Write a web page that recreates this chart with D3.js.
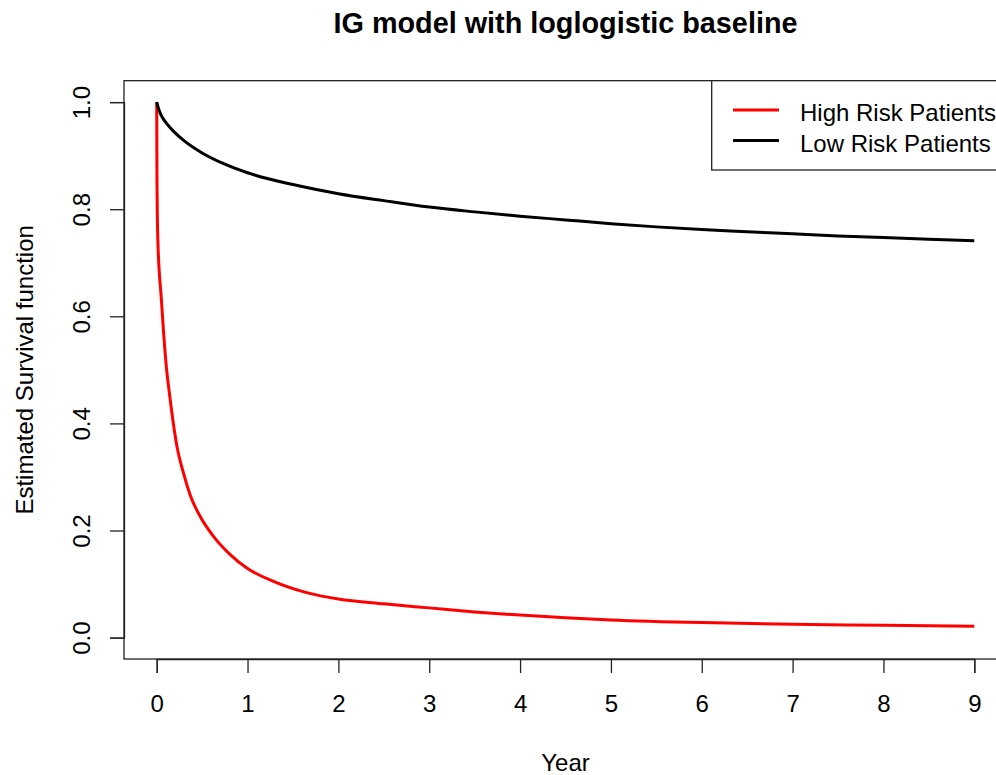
<!DOCTYPE html>
<html>
<head>
<meta charset="utf-8">
<script src="https://cdn.jsdelivr.net/npm/d3@7"></script>
<style>
  body { margin: 0; background: #fff; }
  text { font-family: "Liberation Sans", Arial, sans-serif; fill: #000; }
</style>
</head>
<body>
<div id="chart"></div>
<script>
// values
var highTime = [0, 0.003, 0.013, 0.05, 0.075, 0.105, 0.14, 0.167, 0.222, 0.295, 0.369, 0.479, 0.625, 0.809, 1.0, 1.285, 1.65, 2.0, 2.5, 3.0, 3.5, 4.0, 4.5, 5.0, 6.0, 7.0, 8.0, 9.0];
var highSurv = [1.0, 0.856, 0.74, 0.635, 0.572, 0.508, 0.456, 0.42, 0.358, 0.307, 0.266, 0.226, 0.189, 0.155, 0.129, 0.105, 0.084, 0.072, 0.063, 0.0555, 0.048, 0.042, 0.037, 0.033, 0.028, 0.025, 0.023, 0.021];

var lowTime = [0, 0.02, 0.05, 0.1, 0.2, 0.3, 0.5, 0.75, 1.0, 1.5, 2.0, 2.5, 3.0, 3.5, 4.0, 4.5, 5.0, 5.5, 6.0, 6.5, 7.0, 7.5, 8.0, 8.5, 9.0];
var lowSurv = [1.0, 0.988, 0.975, 0.962, 0.943, 0.928, 0.905, 0.884, 0.868, 0.846, 0.829, 0.816, 0.804, 0.795, 0.787, 0.780, 0.773, 0.767, 0.762, 0.758, 0.754, 0.750, 0.747, 0.744, 0.741];

var xTicks = [0, 1, 2, 3, 4, 5, 6, 7, 8, 9];
var yTicks = [0.0, 0.2, 0.4, 0.6, 0.8, 1.0];
var seriesNames = ["High Risk Patients", "Low Risk Patients"];
var seriesColors = ["#ff0000", "#000000"];

var w = 996, h = 775;

var svg = d3.select("#chart").append("svg")
    .attr("width", w)
    .attr("height", h);

// R style: axis range padded 4% each side
var x = d3.scaleLinear().domain([0, 9]).range([156.7, 974.3]);
var y = d3.scaleLinear().domain([0, 1]).range([637.6, 102.1]);

var boxLeft = x(-0.36), boxRight = x(9.36), boxTop = y(1.04), boxBottom = y(-0.04);

// curves
var line = d3.line()
    .curve(d3.curveMonotoneX)
    .x(function(d) { return x(d[0]); })
    .y(function(d) { return y(d[1]); });

var high = highTime.map(function(t, i) { return [t, highSurv[i]]; });
var low = lowTime.map(function(t, i) { return [t, lowSurv[i]]; });

svg.append("path")
    .datum(high)
    .attr("d", line)
    .attr("fill", "none")
    .attr("stroke", seriesColors[0])
    .attr("stroke-width", 3);

svg.append("path")
    .datum(low)
    .attr("d", line)
    .attr("fill", "none")
    .attr("stroke", seriesColors[1])
    .attr("stroke-width", 3);

// plot box
svg.append("rect")
    .attr("x", boxLeft)
    .attr("y", boxTop)
    .attr("width", boxRight - boxLeft)
    .attr("height", boxBottom - boxTop)
    .attr("fill", "none")
    .attr("stroke", "#222")
    .attr("stroke-width", 1.3);

// x axis
var xAxis = d3.axisBottom(x)
    .tickValues(xTicks)
    .tickSize(14)
    .tickFormat(d3.format("d"));

var gx = svg.append("g")
    .attr("transform", "translate(0," + boxBottom + ")")
    .call(xAxis);
gx.select(".domain").attr("stroke", "#222").attr("stroke-width", 1.3);
gx.selectAll(".tick line").attr("stroke", "#222").attr("stroke-width", 1.3);
gx.selectAll(".tick text")
    .attr("font-size", "24px")
    .attr("font-family", "Liberation Sans, Arial, sans-serif")
    .attr("fill", "#000")
    .attr("dy", null)
    .attr("y", 53);

// y axis, labels rotated like R's default las=0
var yAxis = d3.axisLeft(y)
    .tickValues(yTicks)
    .tickSize(14)
    .tickFormat(d3.format(".1f"));

var gy = svg.append("g")
    .attr("transform", "translate(" + boxLeft + ",0)")
    .call(yAxis);
gy.select(".domain").attr("stroke", "#222").attr("stroke-width", 1.3);
gy.selectAll(".tick line").attr("stroke", "#222").attr("stroke-width", 1.3);
gy.selectAll(".tick text")
    .attr("font-size", "24px")
    .attr("font-family", "Liberation Sans, Arial, sans-serif")
    .attr("fill", "#000")
    .attr("x", null)
    .attr("dy", null)
    .attr("text-anchor", "middle")
    .attr("transform", "translate(" + (89.5 - boxLeft) + ",0) rotate(-90)");

// titles
svg.append("text")
    .attr("x", (boxLeft + boxRight) / 2)
    .attr("y", 33)
    .attr("text-anchor", "middle")
    .attr("font-size", "28.8px")
    .attr("font-weight", "bold")
    .text("IG model with loglogistic baseline");

svg.append("text")
    .attr("x", (boxLeft + boxRight) / 2)
    .attr("y", 771)
    .attr("text-anchor", "middle")
    .attr("font-size", "24px")
    .text("Year");

svg.append("text")
    .attr("transform", "translate(33," + ((boxTop + boxBottom) / 2) + ") rotate(-90)")
    .attr("text-anchor", "middle")
    .attr("font-size", "24px")
    .text("Estimated Survival function");

// legend, top right inside the box
var legend = svg.append("g");
legend.append("rect")
    .attr("x", 711.7)
    .attr("y", boxTop)
    .attr("width", boxRight - 711.7)
    .attr("height", 170 - boxTop)
    .attr("fill", "#fff")
    .attr("stroke", "#222")
    .attr("stroke-width", 1.3);

var rows = legend.selectAll("g.row")
    .data(seriesNames)
    .enter()
    .append("g")
    .attr("class", "row")
    .attr("transform", function(d, i) { return "translate(0," + (110 + i * 30.5) + ")"; });

rows.append("line")
    .attr("x1", 733)
    .attr("x2", 779)
    .attr("stroke", function(d, i) { return seriesColors[i]; })
    .attr("stroke-width", 3);

rows.append("text")
    .attr("x", 800)
    .attr("y", 11)
    .attr("font-size", "24px")
    .text(function(d) { return d; });
</script>
</body>
</html>
